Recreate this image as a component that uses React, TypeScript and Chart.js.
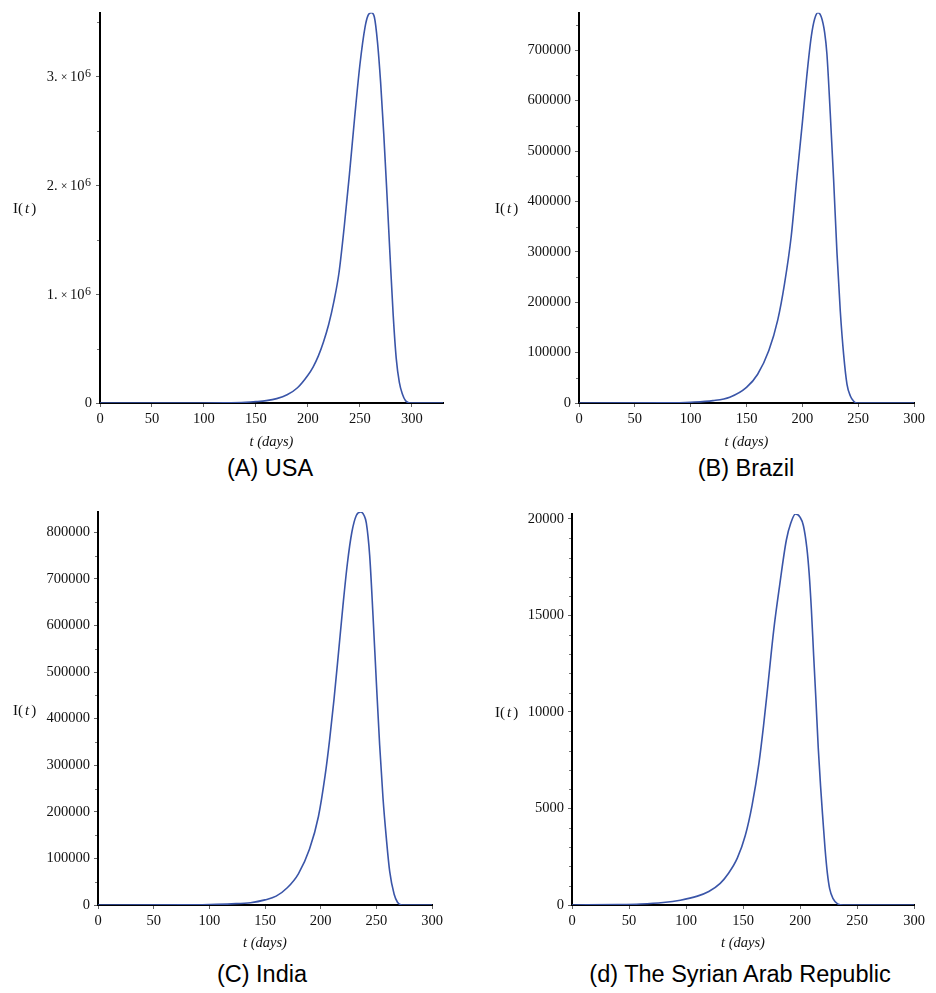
import React, { useEffect, useRef } from 'react';
import { Chart, registerables } from 'chart.js';

Chart.register(...registerables);

// ---------- DATA ----------
const usaT = [0, 100, 120, 140, 150, 160, 170, 180, 190, 200, 205, 210, 215, 220, 225, 230, 235, 240, 245, 250, 255, 258, 261, 264, 267, 270, 273, 276, 279, 282, 285, 288, 291, 294, 297, 300, 305, 330];
const usaI = [0, 500, 2000, 7000, 13000, 22000, 40000, 75000, 140000, 255000, 330000, 430000, 560000, 720000, 930000, 1200000, 1620000, 2100000, 2620000, 3100000, 3450000, 3560000, 3582000, 3540000, 3310000, 2940000, 2470000, 1930000, 1360000, 820000, 410000, 190000, 80000, 20000, 3000, 0, 0, 0];

const brazilT = [0, 80, 100, 120, 135, 150, 160, 170, 178, 184, 190, 195, 200, 204, 208, 211, 214, 217, 220, 222, 225, 228, 231, 234, 237, 240, 243, 246, 249, 300];
const brazilI = [0, 300, 1500, 4700, 11500, 31000, 57000, 104000, 165000, 236000, 330000, 445000, 556000, 649000, 727000, 762000, 774600, 766000, 735000, 693000, 575000, 444000, 299000, 182000, 96000, 37000, 14000, 3500, 0, 0];

const indiaT = [0, 80, 100, 120, 137, 150, 160, 170, 180, 190, 198, 204, 208, 212, 216, 220, 224, 228, 232, 236, 239, 241, 244, 247, 250, 253, 256, 259, 262, 266, 269, 272, 274, 300];
const indiaI = [0, 200, 1000, 2500, 5000, 11000, 19000, 37000, 67000, 120000, 190000, 278000, 354000, 442000, 541000, 642000, 733000, 800000, 836000, 843500, 836000, 820000, 751000, 622000, 479000, 343000, 229000, 143000, 72000, 23000, 6000, 500, 0, 0];

const syriaT = [0, 40, 60, 80, 95, 110, 120, 130, 137, 145, 152, 158, 164, 168, 172, 177, 182, 188, 192, 196, 200, 203, 206, 208, 210, 212, 214, 216, 218, 220, 222, 224, 226, 229, 233, 238, 300];
const syriaI = [0, 20, 50, 130, 250, 460, 700, 1120, 1620, 2430, 3600, 5180, 7350, 9280, 11470, 14270, 16500, 18900, 19800, 20259, 20100, 19650, 18500, 17200, 15300, 12900, 10600, 8150, 6200, 4500, 2900, 1650, 850, 330, 60, 0, 0];

const xTicks = [0, 50, 100, 150, 200, 250, 300];

const usaYTicks = [0, 1000000, 2000000, 3000000];
const usaYMantissa = ['0', '1.', '2.', '3.'];
const brazilYTicks = [0, 100000, 200000, 300000, 400000, 500000, 600000, 700000];
const indiaYTicks = [0, 100000, 200000, 300000, 400000, 500000, 600000, 700000, 800000];
const syriaYTicks = [0, 5000, 10000, 15000, 20000];

const captions = ['(A) USA', '(B) Brazil', '(C) India', '(d) The Syrian Arab Republic'];

// ---------- LAYOUT ----------
type Cfg = {
  t: number[]; v: number[];
  yTicks: number[]; sci?: string[];
  xMax: number; yMax: number; minor: number;
  left: number; top: number; w: number; h: number;
  yWidth: number; padTop: number; padRight: number; xHeight: number; titlePad: number;
};

const panels: Cfg[] = [
  { t: usaT, v: usaI, yTicks: usaYTicks, sci: usaYMantissa, xMax: 330, yMax: 3582000, minor: 500000,
    left: 0, top: 0, w: 468, h: 455, yWidth: 100, padTop: 9, padRight: 25, xHeight: 52, titlePad: 4.6 },
  { t: brazilT, v: brazilI, yTicks: brazilYTicks, xMax: 300, yMax: 774600, minor: 50000,
    left: 468, top: 0, w: 468, h: 455, yWidth: 111, padTop: 9, padRight: 22, xHeight: 52, titlePad: 4.6 },
  { t: indiaT, v: indiaI, yTicks: indiaYTicks, xMax: 300, yMax: 843500, minor: 50000,
    left: 0, top: 495, w: 468, h: 465, yWidth: 98, padTop: 17, padRight: 36, xHeight: 55, titlePad: 8 },
  { t: syriaT, v: syriaI, yTicks: syriaYTicks, xMax: 300, yMax: 20259, minor: 1000,
    left: 468, top: 495, w: 468, h: 465, yWidth: 104, padTop: 19, padRight: 22, xHeight: 55, titlePad: 8 },
];

const ylabelPos = [
  { left: 13, top: 199 }, { left: 495, top: 199 },
  { left: 13, top: 701 }, { left: 495, top: 703 },
];
const captionPos = [
  { cx: 270, top: 457 }, { cx: 746, top: 457 },
  { cx: 262, top: 963 }, { cx: 740, top: 963 },
];

const SERIF = '"Liberation Serif", "DejaVu Serif", serif';
const SANS = '"Liberation Sans", Arial, sans-serif';
const LINE = '#3a55a8';

const extrasPlugin = {
  id: 'extras',
  afterDraw(chart: any) {
    const opts = chart.options.plugins.extras;
    const ys = chart.scales.y;
    const ctx = chart.ctx;
    const left = chart.chartArea.left;
    ctx.save();
    // minor ticks
    ctx.strokeStyle = '#777';
    ctx.lineWidth = 1;
    for (let v = opts.step; v <= ys.max; v += opts.step) {
      if (opts.major.includes(v)) continue;
      const y = Math.round(ys.getPixelForValue(v)) + 0.5;
      ctx.beginPath();
      ctx.moveTo(left - 3, y);
      ctx.lineTo(left - 1, y);
      ctx.stroke();
    }
    // scientific labels (Maple style: "3. × 10^6")
    if (opts.sci) {
      ctx.fillStyle = '#111';
      ctx.textBaseline = 'alphabetic';
      opts.major.forEach((v: number, i: number) => {
        if (v === 0) return;
        const y = ys.getPixelForValue(v) + 5;
        const right = left - 9;
        ctx.font = `12px ${SERIF}`;
        const wSup = ctx.measureText('6').width;
        ctx.textAlign = 'right';
        ctx.fillText('6', right, y - 4);
        ctx.font = `14.5px ${SERIF}`;
        const w10 = ctx.measureText('10').width;
        ctx.fillText('10', right - wSup - 0.5, y);
        ctx.font = `12px ${SERIF}`;
        ctx.fillText('\u00d7', right - wSup - w10 - 3, y - 0.5);
        const wx = ctx.measureText('\u00d7').width;
        ctx.font = `14.5px ${SERIF}`;
        ctx.fillText(opts.sci[i], right - wSup - w10 - wx - 6, y);
      });
    }
    ctx.restore();
  },
};

function Panel({ cfg }: { cfg: Cfg }) {
  const ref = useRef<HTMLCanvasElement>(null);
  useEffect(() => {
    const data = cfg.t.map((x, i) => ({ x, y: cfg.v[i] }));
    const tickFont = { family: SERIF, size: 14.5 };
    const chart = new Chart(ref.current as HTMLCanvasElement, {
      type: 'line',
      data: {
        datasets: [{
          data,
          borderColor: LINE,
          borderWidth: 1.6,
          pointRadius: 0,
          fill: false,
          cubicInterpolationMode: 'monotone',
        }],
      },
      options: {
        animation: false,
        responsive: false,
        devicePixelRatio: 1,
        layout: { padding: { left: 0, top: cfg.padTop, right: cfg.padRight, bottom: 0 } },
        plugins: {
          legend: { display: false },
          tooltip: { enabled: false },
          extras: { step: cfg.minor, major: cfg.yTicks, sci: cfg.sci },
        } as any,
        scales: {
          x: {
            type: 'linear',
            min: 0,
            max: cfg.xMax,
            z: 1,
            afterBuildTicks: (s: any) => { s.ticks = xTicks.map((value) => ({ value })); },
            afterFit: (s: any) => { s.height = cfg.xHeight; },
            ticks: { font: tickFont, color: '#111', padding: 3, maxRotation: 0, autoSkip: false,
              callback: (v: any) => String(v) },
            grid: { drawOnChartArea: false, drawTicks: true, tickLength: 4, tickColor: '#666', tickWidth: 1 },
            border: { display: true, color: '#000', width: 2 },
            title: { display: true, text: 't (days)', color: '#111',
              font: { family: SERIF, size: 14.5, style: 'italic' }, padding: { top: 0, bottom: cfg.titlePad } },
          },
          y: {
            type: 'linear',
            min: 0,
            max: cfg.yMax,
            z: 1,
            afterBuildTicks: (s: any) => { s.ticks = cfg.yTicks.map((value) => ({ value })); },
            afterFit: (s: any) => { s.width = cfg.yWidth; },
            ticks: { font: tickFont, color: '#111', padding: 4, autoSkip: false,
              callback: (v: any) => (cfg.sci && Number(v) !== 0 ? '' : String(v)) },
            grid: { drawOnChartArea: false, drawTicks: true, tickLength: 4, tickColor: '#666', tickWidth: 1 },
            border: { display: true, color: '#000', width: 2 },
          },
        },
      },
      plugins: [extrasPlugin],
    } as any);
    return () => chart.destroy();
  }, []);
  return (
    <canvas
      ref={ref}
      width={cfg.w}
      height={cfg.h}
      style={{ position: 'absolute', left: cfg.left, top: cfg.top, width: cfg.w, height: cfg.h }}
    />
  );
}

export default function App() {
  return (
    <div style={{ position: 'absolute', left: 0, top: 0, width: 936, height: 993, background: '#fff', overflow: 'hidden' }}>
      {panels.map((p, i) => <Panel key={i} cfg={p} />)}
      {ylabelPos.map((p, i) => (
        <div key={'yl' + i} style={{ position: 'absolute', left: p.left, top: p.top, font: `15px ${SERIF}`, lineHeight: '18px', color: '#111', whiteSpace: 'nowrap' }}>
          I(<i style={{ margin: '0 2px' }}>t</i>)
        </div>
      ))}
      {captionPos.map((p, i) => (
        <div key={'c' + i} style={{ position: 'absolute', left: p.cx - 230, width: 460, top: p.top, textAlign: 'center', font: `23.5px ${SANS}`, lineHeight: '23.5px', color: '#000', whiteSpace: 'nowrap' }}>
          {captions[i]}
        </div>
      ))}
    </div>
  );
}
